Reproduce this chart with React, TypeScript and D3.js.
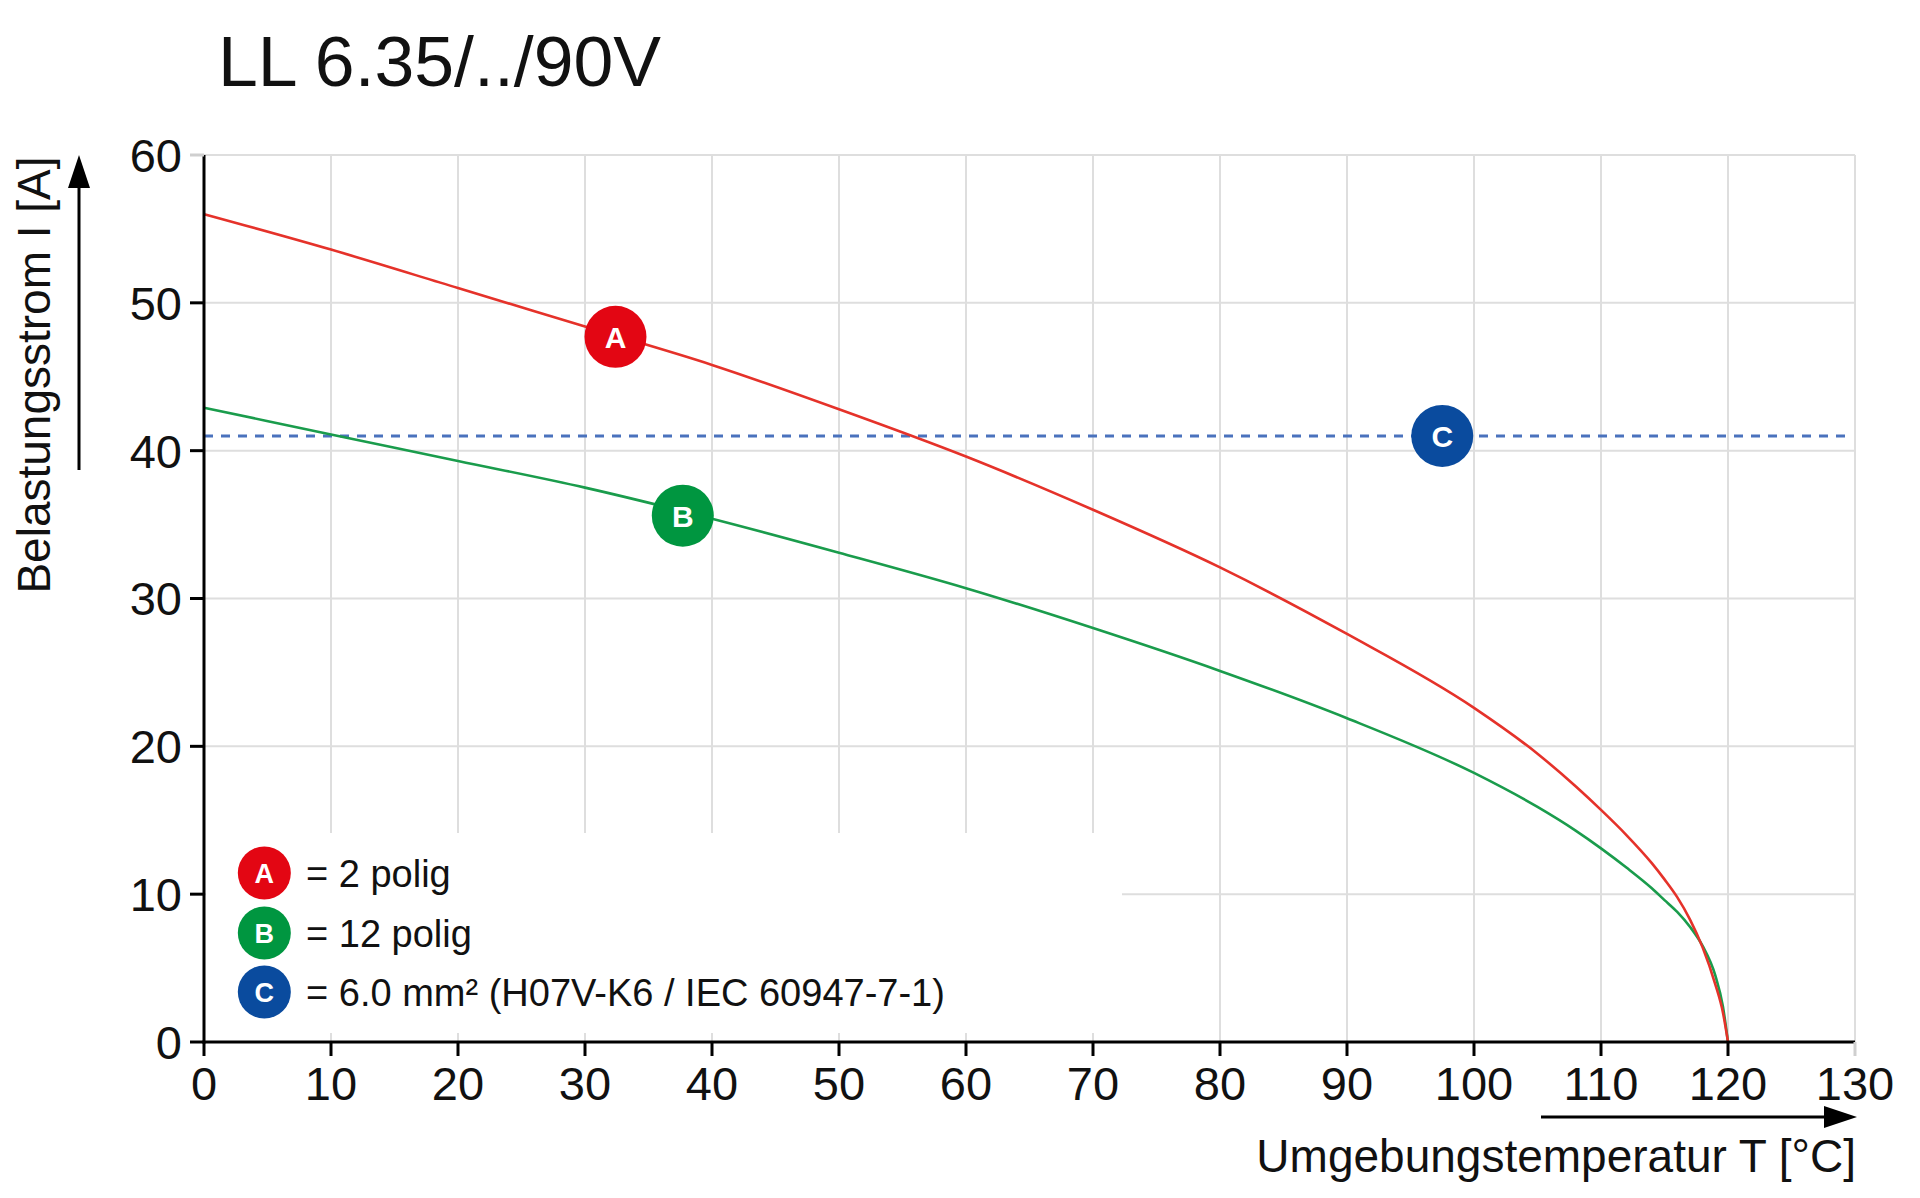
import React from "react";
import * as d3 from "d3";

const TITLE = "LL 6.35/../90V";
const X_LABEL = "Umgebungstemperatur T [°C]";
const Y_LABEL = "Belastungsstrom I [A]";

const xTicks = [0, 10, 20, 30, 40, 50, 60, 70, 80, 90, 100, 110, 120, 130];
const yTicks = [0, 10, 20, 30, 40, 50, 60];

const tempA = [0, 10, 20, 30, 40, 50, 60, 70, 80, 90, 100, 105, 108, 110, 112, 114, 115, 116, 117, 118, 119, 119.6, 120];
const currentA = [56.0, 53.6, 51.0, 48.4, 45.8, 42.8, 39.6, 36.0, 32.1, 27.6, 22.6, 19.5, 17.3, 15.7, 14.0, 12.1, 11.0, 9.8, 8.3, 6.4, 3.9, 2.0, 0];

const tempB = [0, 10, 20, 30, 40, 50, 60, 70, 80, 90, 100, 105, 108, 110, 112, 114, 115, 116, 117, 118, 119, 119.6, 120];
const currentB = [42.9, 41.1, 39.3, 37.5, 35.4, 33.1, 30.7, 28.0, 25.1, 21.9, 18.2, 15.9, 14.3, 13.1, 11.8, 10.4, 9.6, 8.8, 7.8, 6.5, 4.5, 2.4, 0];

const limitC = 41.0;

const markerLetters = ["A", "B", "C"];
const markerT = [32.4, 37.7, 97.5];
const markerI = [47.7, 35.6, 41.0];

const legendLabels = ["= 2 polig", "= 12 polig", "= 6.0 mm² (H07V-K6 / IEC 60947-7-1)"];

const circleColors = ["#e30613", "#009640", "#0a4b9e"];
const lineColors = ["#e5322a", "#1a9c4c", "#4a72bd"];

const FONT = "'Liberation Sans', Arial, Helvetica, sans-serif";

export default function App() {
  const x = d3.scaleLinear().domain([0, 130]).range([204, 1855]);
  const y = d3.scaleLinear().domain([0, 60]).range([1042, 155]);

  const line = d3
    .line<[number, number]>()
    .x((d) => x(d[0]))
    .y((d) => y(d[1]))
    .curve(d3.curveMonotoneX);

  const dataA: [number, number][] = tempA.map((t, i) => [t, currentA[i]]);
  const dataB: [number, number][] = tempB.map((t, i) => [t, currentB[i]]);

  const x0 = x(0);
  const y0 = y(0);
  const xMax = x(130);
  const yMax = y(60);

  const legendX = x(4.75);
  const legendY = [873, 933, 992];

  return (
    <svg
      width={1920}
      height={1198}
      style={{ position: "absolute", left: 0, top: 0, background: "#fff" }}
      fontFamily={FONT}
    >
      <rect x={0} y={0} width={1920} height={1198} fill="#fff" />
      {/* Title */}
      <text x={218} y={86} fontSize={70} fill="#111" textLength={443} lengthAdjust="spacingAndGlyphs">
        {TITLE}
      </text>

      {/* Grid */}
      <g stroke="#dedede" strokeWidth={2}>
        {xTicks.map((t) => (
          <line key={"gx" + t} x1={x(t)} x2={x(t)} y1={yMax} y2={y0} />
        ))}
        {yTicks.map((t) => (
          <line key={"gy" + t} x1={x0} x2={xMax} y1={y(t)} y2={y(t)} />
        ))}
      </g>

      {/* Legend background box covering the grid */}
      <rect x={x0 + 2} y={833} width={1122 - x0 - 2} height={1033 - 833} fill="#fff" />

      {/* Dashed limit line C */}
      <line
        x1={x(0)}
        x2={x(129.6)}
        y1={y(limitC)}
        y2={y(limitC)}
        stroke={lineColors[2]}
        strokeWidth={3}
        strokeDasharray="9 8"
      />

      {/* Curves */}
      <path d={line(dataB) || ""} fill="none" stroke={lineColors[1]} strokeWidth={2.6} />
      <path d={line(dataA) || ""} fill="none" stroke={lineColors[0]} strokeWidth={2.6} />

      {/* Axes */}
      <line x1={x0} x2={x0} y1={yMax} y2={y0 + 1.5} stroke="#000" strokeWidth={3} />
      <line x1={x0 - 1.5} x2={xMax} y1={y0} y2={y0} stroke="#000" strokeWidth={3} />
      {yTicks.map((t) => (
        <g key={"yt" + t}>
          <line x1={x0 - 14} x2={x0} y1={y(t)} y2={y(t)} stroke={t === 60 ? "#cfcfcf" : "#000"} strokeWidth={3} />
          <text x={182} y={y(t)} dy="0.36em" textAnchor="end" fontSize={47} fill="#111">
            {t}
          </text>
        </g>
      ))}
      {xTicks.map((t) => (
        <g key={"xt" + t}>
          <line x1={x(t)} x2={x(t)} y1={y0} y2={y0 + 14} stroke={t === 130 ? "#cfcfcf" : "#000"} strokeWidth={3} />
          <text x={x(t)} y={1100} textAnchor="middle" fontSize={47} fill="#111">
            {t}
          </text>
        </g>
      ))}

      {/* Axis titles with arrows */}
      <text transform="translate(50,375) rotate(-90)" textAnchor="middle" fontSize={46} fill="#111">
        {Y_LABEL}
      </text>
      <line x1={79} x2={79} y1={470} y2={180} stroke="#000" strokeWidth={3} />
      <path d="M79,155 L90,188 L68,188 Z" fill="#000" />

      <text x={1856} y={1172} textAnchor="end" fontSize={46} fill="#111">
        {X_LABEL}
      </text>
      <line x1={1541} x2={1830} y1={1117} y2={1117} stroke="#000" strokeWidth={3} />
      <path d="M1857,1117 L1824,1106 L1824,1128 Z" fill="#000" />

      {/* Curve markers */}
      {markerLetters.map((l, i) => (
        <g key={"m" + l}>
          <circle cx={x(markerT[i])} cy={y(markerI[i])} r={31} fill={circleColors[i]} />
          <text
            x={x(markerT[i])}
            y={y(markerI[i])}
            dy="0.36em"
            textAnchor="middle"
            fontSize={30}
            fontWeight="bold"
            fill="#fff"
          >
            {l}
          </text>
        </g>
      ))}

      {/* Legend */}
      {markerLetters.map((l, i) => (
        <g key={"lg" + l}>
          <circle cx={legendX} cy={legendY[i]} r={26.5} fill={circleColors[i]} />
          <text x={legendX} y={legendY[i]} dy="0.36em" textAnchor="middle" fontSize={27} fontWeight="bold" fill="#fff">
            {l}
          </text>
          <text x={306} y={legendY[i]} dy="0.36em" fontSize={38} fill="#111">
            {legendLabels[i]}
          </text>
        </g>
      ))}
    </svg>
  );
}
